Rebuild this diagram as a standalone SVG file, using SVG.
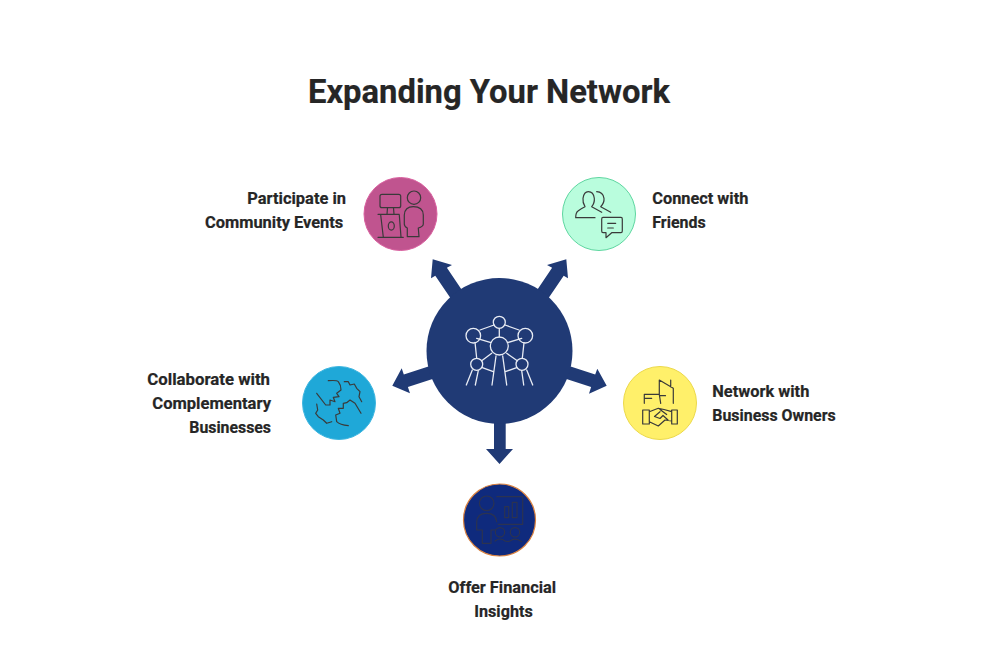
<svg xmlns="http://www.w3.org/2000/svg" width="1000" height="660" viewBox="0 0 1000 660">
<style>
text{font-family:"Roboto","Liberation Sans",sans-serif;font-weight:700;fill:#262626;stroke:#262626;stroke-width:.2}
.t{font-size:33px}
.l{font-size:16px}
.i{fill:none;stroke-width:1.2;stroke-linecap:round;stroke-linejoin:round}
.d{stroke:#3a3a3a}
.w{stroke:#e8ecf4;stroke-width:1.3}
.n{stroke:#2c3350}
.a{fill:#203a75}
</style>
<rect width="1000" height="660" fill="#fff"/>
<text class="t" x="308" y="103" textLength="362" lengthAdjust="spacingAndGlyphs">Expanding Your Network</text>
<g id="connectors">
<polygon class="a" points="453.800,303 435.300,275.700 431,278.300 432.700,259.300 452,265 446.900,267.800 465.400,295.200"/>
<polygon class="a" points="545.200,303 563.700,275.700 568,278.300 566.300,259.300 547,265 552.100,267.800 533.600,295.200"/>
<polygon class="a" points="441.800,375.900 407.900,386.900 410,393.300 392.300,385.700 401.700,368.300 403.800,374.600 437.600,363.500"/>
<polygon class="a" points="557.200,375.900 591.100,386.900 589,393.800 606.700,385.700 597.300,368.800 595.200,374.600 561.400,363.500"/>
<polygon class="a" points="494,420 505.700,420 505.700,449 513,449 499.500,464 486,449 494,449"/>
</g>
<g id="hub">
<circle cx="499.500" cy="351" r="73" fill="#203a75"/>
<g class="i w">
<circle cx="499.300" cy="322.300" r="6"/><circle cx="473.300" cy="335.700" r="7.300"/><circle cx="525.300" cy="335.700" r="7.300"/><circle cx="499.300" cy="346" r="9"/><circle cx="476.700" cy="364.300" r="6"/><circle cx="522" cy="364.300" r="6"/>
<path d="M494 325 480 330M505 325 519 330M499.300 328.300V336.700M476.700 338.300 491 342.700M521.700 338.300 507.300 342.700M475 342.300 476.700 358.300M524 342.700 522.300 358.300M491.700 353.300 481.700 360.700M506.700 353.300 517.300 360.700M482.300 367.700 493.300 371.700M516.700 367.700 505.300 371.700M496 356 492 385M502.700 356 506.700 385M472.300 370 466.300 385M478.300 370.700 475.300 385M521.700 370.700 523.700 385M526.700 370 532.700 385"/>
</g>
</g>
<g id="community-events">
<circle cx="400.500" cy="214" r="36.500" fill="#c0548f" stroke="#d9609f" stroke-width="1"/>
<g class="i d">
<rect x="380" y="194.300" width="20.700" height="13.400" rx="2"/><path d="M387.500 207.700 387 214.300M393.500 207.700 394 214.300M378 214.300H399.300M380.700 215 383.300 237M399.300 215 401 237M378 237.300H403.300"/>
<ellipse cx="391.300" cy="226" rx="3" ry="4.200"/><circle cx="414" cy="197.700" r="6.700"/>
<path d="M407.300 236.700V228Q404.300 226.500 404.300 224V215Q404.800 206.700 413.300 206.700Q423 206.700 423.300 215V224Q423.300 226.500 418.300 228L419 236.700Z"/>
</g>
<text class="l" x="247.300" y="204" textLength="98.700" lengthAdjust="spacingAndGlyphs">Participate in</text>
<text class="l" x="205" y="228" textLength="138.300" lengthAdjust="spacingAndGlyphs">Community Events</text>
</g>
<g id="friends">
<circle cx="599" cy="214" r="36.500" fill="#b9fddd" stroke="#5ed6a0" stroke-width="1"/>
<g class="i d">
<path d="M595 217.700H575.700Q575.700 212.500 578 211Q581 208.500 585 206.700Q582.500 203 583 198.300Q584 191.700 588.300 191.700Q593.500 191.700 594.300 198.300Q594.800 203 591.700 206.700Q596 209 601.700 212.300"/>
<path d="M596.700 191.700Q603 192 604 198.300Q604.500 203 600.700 206.700Q605 209 610.700 212.300"/>
<path d="M603 217.300H621Q622.300 217.300 622.300 219V231Q622.300 232.700 621 232.700H611.700L606 237.700V232.700H603Q601.700 232.700 601.700 231V219Q601.700 217.300 603 217.300Z"/>
<path d="M607.700 223.300H615.700M607.700 228H613.300"/>
</g>
<text class="l" x="652.300" y="204" textLength="96" lengthAdjust="spacingAndGlyphs">Connect with</text>
<text class="l" x="652.300" y="228" textLength="53.400" lengthAdjust="spacingAndGlyphs">Friends</text>
</g>
<g id="collaborate">
<circle cx="339" cy="403" r="36.500" fill="#1fa8d8" stroke="#3fb6e0" stroke-width="1"/>
<g class="i d">
<path d="M328.300 380.700Q337 380 338.300 381.700Q341 385 341 390L336.700 393.300 339 396.700 333.300 397.300 335 401.700 330 400 330 405 325.700 405 316.700 393.300"/>
<path d="M344.300 381.700 348.300 381.700 350 385 354.300 384 356.700 388.300 360 391.700 359 396.700 361.700 401.700"/>
<path d="M316.700 404 317.700 410 315.700 413.300 318.300 416.700 323.300 420 326.700 423.300 331.700 421.700"/>
<path d="M361 413.300 355 403.300 350 400 346.700 402.700 343.300 403.300 343.300 408.300 338.300 408.300 340 413.300 335.700 415 336.700 421.700Q340 425 348.300 425.700"/>
</g>
<text class="l" x="147.300" y="385" textLength="122.700" lengthAdjust="spacingAndGlyphs">Collaborate with</text>
<text class="l" x="152.300" y="409" textLength="118.700" lengthAdjust="spacingAndGlyphs">Complementary</text>
<text class="l" x="189.300" y="433" textLength="81.700" lengthAdjust="spacingAndGlyphs">Businesses</text>
</g>
<g id="business-owners">
<circle cx="660" cy="403" r="36.500" fill="#fff06a" stroke="#ecd94a" stroke-width="1"/>
<g class="i d">
<path d="M659.300 394.300V380L673.300 388.300V403.300M670.700 380V387M644.300 403.300V394.300H659.300L660.700 403.300M644.300 398.300H651.700M659.500 395.700H665.500"/>
<path d="M642.700 410H649.300V424H642.700ZM671.700 410H677.300V424H671.700ZM649.300 411.700 658.300 408.300 664 409.500 671.700 411.700M649.300 421.700 658.300 426 665 420 671.700 421M660 411.700 654.500 416.500 660 418.500 663 415.500 668 420M660 409.500 666.700 414.500"/>
</g>
<text class="l" x="712.300" y="397" textLength="97" lengthAdjust="spacingAndGlyphs">Network with</text>
<text class="l" x="712.300" y="421" textLength="123.400" lengthAdjust="spacingAndGlyphs">Business Owners</text>
</g>
<g id="financial-insights">
<circle cx="499.500" cy="520" r="36" fill="#0f2a7d" stroke="#d9813f" stroke-width="1.200"/>
<g class="i n">
<circle cx="486.700" cy="503.300" r="7.300"/><path d="M496.700 496.700H522.700V524.300H498.300M504.700 506.700H508.700V517.700H504.700ZM512.300 502.300H517V517.700H512.300ZM476.700 530V522Q477 513.300 486.700 513.300Q496 513.300 496.700 521.700M476.700 530H482.300V543.300H491V530H495.700"/><circle cx="500" cy="532.300" r="4.700"/><circle cx="515" cy="532.300" r="4.700"/><path d="M495 541Q500 537 505 541Q508 542 510 541Q515 537 521.700 541.700"/>
</g>
<text class="l" x="448.300" y="593" textLength="107.700" lengthAdjust="spacingAndGlyphs">Offer Financial</text>
<text class="l" x="474.300" y="617" textLength="58.400" lengthAdjust="spacingAndGlyphs">Insights</text>
</g>
</svg>
